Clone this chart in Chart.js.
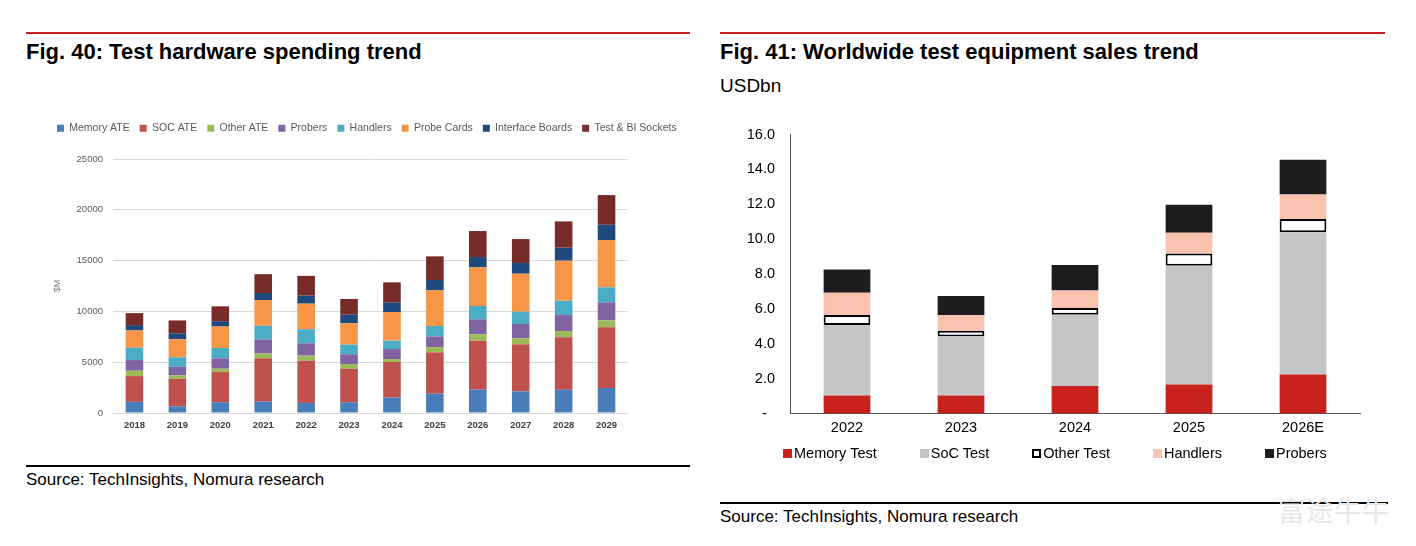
<!DOCTYPE html>
<html>
<head>
<meta charset="utf-8">
<title>Test hardware / test equipment</title>
<script src="https://cdn.jsdelivr.net/npm/chart.js@4.4.1/dist/chart.umd.min.js"></script>
<style>
  body { margin: 0; background: #fff; font-family: 'Liberation Sans', Arial, sans-serif; }
  #page { position: relative; width: 1416px; height: 546px; overflow: hidden; }
  .rule { position: absolute; height: 2px; }
  .red { background: #c8201e; }
  .black { background: #000; }
  .title { position: absolute; font-size: 22px; line-height: 26px; font-weight: bold; color: #000; white-space: nowrap; }
  .note { position: absolute; font-size: 17px; line-height: 20px; color: #000; white-space: nowrap; }
  .box { position: absolute; }
  #legend2 { position: absolute; left: 783px; top: 444px; display: flex; gap: 43px; font-size: 14.5px; line-height: 18px; color: #000; white-space: nowrap; }
  #legend2 span.sw { display: inline-block; width: 9px; height: 9px; margin-right: 2px; box-sizing: border-box; vertical-align: 0px; }
  #wm { position: absolute; left: 1278px; top: 494px; font-family: 'Noto Sans CJK SC', sans-serif; font-size: 27px; line-height: 32px; color: #e6e6e6; letter-spacing: 1px; }
</style>
</head>
<body>
<div id="page">
  <div class="rule red" style="left:26px; top:32px; width:664px;"></div>
  <div class="title" style="left:26px; top:39px;">Fig. 40: Test hardware spending trend</div>

  <div class="rule red" style="left:720px; top:32px; width:665px;"></div>
  <div class="title" style="left:720px; top:39px;">Fig. 41: Worldwide test equipment sales trend</div>
  <div class="note" style="left:720px; top:75px; font-size:19px; line-height:22px;">USDbn</div>

  <div class="box" style="left:47px; top:113px; width:660px; height:327px;"><canvas id="chart1"></canvas></div>
  <div class="box" style="left:720px; top:120px; width:665px; height:325px;"><canvas id="chart2"></canvas></div>
  <div id="legend2"></div>

  <div class="rule black" style="left:26px; top:465px; width:664px;"></div>
  <div class="note" style="left:26px; top:470px;">Source: TechInsights, Nomura research</div>

  <div class="rule black" style="left:720px; top:502px; width:668px;"></div>
  <div class="note" style="left:720px; top:507px;">Source: TechInsights, Nomura research</div>
  <div id="wm">富途牛牛</div>
</div>

<script>
// Fig. 40 - test hardware spending ($M)
const years = ['2018', '2019', '2020', '2021', '2022', '2023', '2024', '2025', '2026', '2027', '2028', '2029'];
const memoryATE       = [1100,  660, 1060, 1120,  990, 1060, 1510, 1900, 2300, 2130, 2300, 2460];
const socATE          = [2530, 2700, 2970, 4260, 4160, 3300, 3510, 4070, 4820, 4630, 5150, 5970];
const otherATE        = [ 530,  340,  330,  490,  490,  460,  290,  520,  620,  590,  620,  690];
const probers         = [1050,  850, 1020, 1360, 1220,  960,  990, 1050, 1480, 1410, 1570, 1770];
const handlers        = [1220,  930, 1020, 1350, 1390,  950,  820, 1020, 1310, 1210, 1410, 1480];
const probeCards      = [1690, 1780, 2110, 2540, 2510, 2110, 2820, 3510, 3800, 3740, 3940, 4650];
const interfaceBoards = [ 530,  590,  530,  690,  790,  830,  920, 1020, 1020, 1050, 1280, 1510];
const testSockets     = [1180, 1260, 1460, 1850, 1950, 1550, 2000, 2330, 2560, 2360, 2590, 2920];
const yTicks1 = [0, 5000, 10000, 15000, 20000, 25000];

// Fig. 41 - worldwide test equipment sales (USDbn)
const years2 = ['2022', '2023', '2024', '2025', '2026E'];
const memoryTest = [1.03, 1.03, 1.57, 1.67, 2.24];
const socTest    = [4.05, 3.38, 4.10, 6.81, 8.15];
const otherTest  = [0.57, 0.34, 0.38, 0.69, 0.77];
const handlers2  = [1.28, 0.90, 1.00, 1.19, 1.40];
const probers2   = [1.33, 1.09, 1.47, 1.61, 1.99];
const yTicks2 = [0, 2, 4, 6, 8, 10, 12, 14, 16];

Chart.defaults.font.family = "'Liberation Sans', Arial, sans-serif";
Chart.defaults.animation = false;

// push the plot down a bit below the legend
const legendGap = {
  id: 'legendGap',
  beforeInit(chart) {
    const fit = chart.legend.fit;
    chart.legend.fit = function () {
      fit.bind(chart.legend)();
      this.height += 15.5;
    };
  }
};

function ds(label, data, color) {
  return { label: label, data: data, backgroundColor: color, borderWidth: 0 };
}

new Chart(document.getElementById('chart1'), {
  type: 'bar',
  data: {
    labels: years,
    datasets: [
      ds('Memory ATE', memoryATE, '#4a7ebb'),
      ds('SOC ATE', socATE, '#c0504d'),
      ds('Other ATE', otherATE, '#9bbb59'),
      ds('Probers', probers, '#8064a2'),
      ds('Handlers', handlers, '#4bacc6'),
      ds('Probe Cards', probeCards, '#f79646'),
      ds('Interface Boards', interfaceBoards, '#1f497d'),
      ds('Test & BI Sockets', testSockets, '#772c2a')
    ]
  },
  options: {
    responsive: true,
    maintainAspectRatio: false,
    layout: { padding: { top: 0, right: 0, bottom: 1.6, left: 0 } },
    datasets: { bar: { barPercentage: 0.41, categoryPercentage: 1 } },
    plugins: {
      tooltip: { enabled: false },
      legend: {
        position: 'top',
        align: 'start',
        labels: { boxWidth: 7, boxHeight: 7, padding: 10, color: '#595959', font: { size: 10.5 } }
      }
    },
    scales: {
      x: {
        stacked: true,
        grid: { display: false, drawTicks: false },
        border: { display: false },
        ticks: { color: '#404040', padding: 7, font: { size: 9.5, weight: 'bold' } }
      },
      y: {
        stacked: true,
        min: 0,
        max: 25000,
        afterFit: s => { s.width = 66; },
        afterBuildTicks: s => { s.ticks = yTicks1.map(v => ({ value: v })); },
        grid: { color: '#d9d9d9', drawTicks: false },
        border: { display: false },
        ticks: { color: '#595959', padding: 10, font: { size: 9.5 }, callback: v => String(v) },
        title: { display: true, text: '$M', color: '#7f7f7f', font: { size: 9 }, padding: { top: 5, bottom: 0 } }
      },
      // empty axis on the right, only keeps room so the legend can run past the plot
      yRight: {
        position: 'right',
        grid: { display: false },
        border: { display: false },
        ticks: { display: false },
        afterFit: s => { s.width = 79; }
      }
    }
  },
  plugins: [legendGap]
});

const chart2 = new Chart(document.getElementById('chart2'), {
  type: 'bar',
  data: {
    labels: years2,
    datasets: [
      ds('Memory Test', memoryTest, '#c8221e'),
      ds('SoC Test', socTest, '#c4c5c7'),
      { label: 'Other Test', data: otherTest, backgroundColor: '#ffffff', borderColor: '#000000', borderWidth: 2, borderSkipped: false },
      ds('Handlers', handlers2, '#f9c3b0'),
      ds('Probers', probers2, '#1e1c1e')
    ]
  },
  options: {
    responsive: true,
    maintainAspectRatio: false,
    layout: { padding: { top: 14.5, right: 25, bottom: 2.1, left: 0 } },
    datasets: { bar: { barPercentage: 0.41, categoryPercentage: 1 } },
    plugins: {
      tooltip: { enabled: false },
      legend: { display: false }
    },
    scales: {
      x: {
        stacked: true,
        grid: { display: false, drawTicks: false },
        border: { display: true, color: '#555555', width: 1 },
        ticks: { color: '#000', padding: 6, font: { size: 14.5 } }
      },
      y: {
        stacked: true,
        min: 0,
        max: 16,
        afterFit: s => { s.width = 70; },
        afterBuildTicks: s => { s.ticks = yTicks2.map(v => ({ value: v })); },
        // gap between labels and axis comes from the (hidden) tick length
        grid: { display: false, drawTicks: true, tickLength: 15 },
        border: { display: true, color: '#555555', width: 1 },
        ticks: {
          color: '#000',
          padding: 0,
          font: { size: 14.5 },
          callback: v => (v === 0 ? '-  ' : v.toFixed(1))
        }
      }
    }
  }
});

// html legend for fig. 41 (wide spacing like the original)
const legend2 = document.getElementById('legend2');
chart2.data.datasets.forEach(d => {
  const item = document.createElement('div');
  const sw = document.createElement('span');
  sw.className = 'sw';
  sw.style.background = d.backgroundColor;
  if (d.borderWidth) sw.style.border = '2px solid ' + d.borderColor;
  item.appendChild(sw);
  item.appendChild(document.createTextNode(d.label));
  legend2.appendChild(item);
});
</script>
</body>
</html>
